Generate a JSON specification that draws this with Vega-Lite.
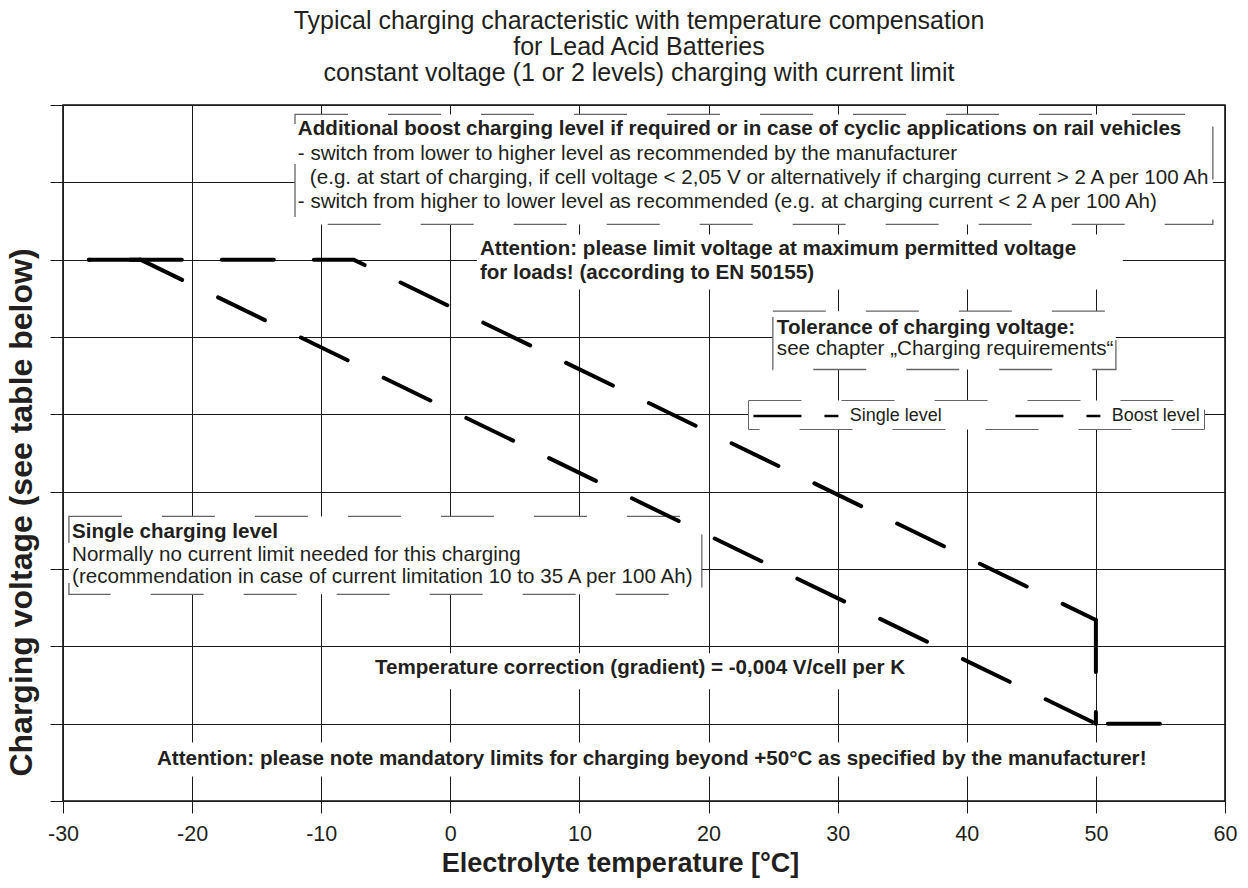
{
  "$schema": "https://vega.github.io/schema/vega-lite/v6.json",
  "width": 1162,
  "height": 696,
  "autosize": {"type": "none"},
  "padding": {"left": 63, "top": 105, "right": 23, "bottom": 87},
  "background": "white",
  "config": {
    "font": "Liberation Sans, Arial, Helvetica, sans-serif",
    "view": {"stroke": "#111111", "strokeWidth": 1.6},
    "axis": {
      "gridColor": "#1a1a1a",
      "gridOpacity": 1,
      "gridWidth": 1,
      "tickColor": "#1a1a1a",
      "tickWidth": 1,
      "domain": false,
      "labelColor": "#231f20",
      "titleColor": "#231f20"
    },
    "legend": {
      "orient": "none",
      "legendX": 685,
      "legendY": 295,
      "direction": "horizontal",
      "fillColor": "white",
      "strokeColor": "#666666",
      "padding": 4,
      "symbolType": "M-4,0L4,0",
      "symbolSize": 451,
      "symbolOffset": 31.9,
      "symbolStrokeWidth": 2.5,
      "symbolDash": [48, 23],
      "symbolStrokeColor": "#000000",
      "labelFontSize": 18,
      "labelColor": "#231f20",
      "labelOffset": 41.9,
      "columnPadding": 68
    }
  },
  "title": {
    "text": [
      "Typical charging characteristic with temperature compensation",
      "for Lead Acid Batteries",
      "constant voltage  (1 or 2 levels) charging  with current limit"
    ],
    "fontSize": 25,
    "fontWeight": "normal",
    "lineHeight": 26,
    "color": "#231f20",
    "anchor": "middle",
    "frame": "group",
    "offset": 19,
    "dx": -5
  },
  "datasets": {
    "levels": [
      {"series": "Single level", "i": 1, "t": -28, "v": 2.5},
      {"series": "Single level", "i": 2, "t": -24, "v": 2.5},
      {"series": "Single level", "i": 3, "t": 50, "v": 2.2},
      {"series": "Single level", "i": 4, "t": 55, "v": 2.2},
      {"series": "Boost level", "i": 1, "t": -28, "v": 2.5},
      {"series": "Boost level", "i": 2, "t": -7.5, "v": 2.5},
      {"series": "Boost level", "i": 3, "t": 50, "v": 2.267},
      {"series": "Boost level", "i": 4, "t": 50, "v": 2.2}
    ],
    "framedNotes": [
      {"note": "boost", "t": -12.03, "t_end": 59.06, "v": 2.5939, "v_end": 2.5228},
      {"note": "tolerance", "t": 24.98, "t_end": 51.55, "v": 2.4667, "v_end": 2.429},
      {"note": "single", "t": -29.54, "t_end": 19.48, "v": 2.334, "v_end": 2.2836}
    ],
    "plainNotes": [
      {"note": "limit", "t": 2.06, "t_end": 52.09, "v": 2.5163, "v_end": 2.4807},
      {"note": "gradient", "t": -6.38, "t_end": 35.0, "v": 2.2455, "v_end": 2.2222},
      {"note": "beyond50", "t": -23.26, "t_end": 56.6, "v": 2.1879, "v_end": 2.1659}
    ],
    "notes": [
      {"role": "heading", "t": -11.81, "v": 2.5805, "text": "Additional boost charging level if required or in case of cyclic applications on rail vehicles"},
      {"role": "body", "t": -11.81, "v": 2.5644, "text": "- switch from lower to higher level as recommended by the manufacturer"},
      {"role": "body", "t": -10.88, "v": 2.5489, "text": "(e.g. at start of charging, if cell voltage < 2,05 V or alternatively if charging current > 2 A per 100 Ah"},
      {"role": "body", "t": -11.81, "v": 2.5331, "text": "- switch from higher to lower level as recommended (e.g. at charging current < 2 A per 100 Ah)"},
      {"role": "heading", "t": 2.29, "v": 2.5029, "text": "Attention: please limit voltage at maximum permitted voltage"},
      {"role": "heading", "t": 2.29, "v": 2.4872, "text": "for loads! (according to EN 50155)"},
      {"role": "heading", "t": 25.29, "v": 2.4517, "text": "Tolerance of charging voltage:"},
      {"role": "body", "t": 25.29, "v": 2.4381, "text": "see chapter „Charging requirements“"},
      {"role": "heading", "t": -29.3, "v": 2.3198, "text": "Single charging level"},
      {"role": "body", "t": -29.3, "v": 2.3049, "text": "Normally no current limit needed for this charging"},
      {"role": "body", "t": -29.3, "v": 2.2907, "text": "(recommendation in case of current limitation 10 to 35 A per 100 Ah)"},
      {"role": "heading", "t": -5.84, "v": 2.2319, "text": "Temperature correction (gradient) = -0,004 V/cell per K"},
      {"role": "heading", "t": -22.72, "v": 2.1731, "text": "Attention: please note mandatory limits for charging beyond +50°C as specified by the manufacturer!"}
    ]
  },
  "layer": [
    {
      "data": {"name": "framedNotes"},
      "mark": {"type": "rect", "fill": "white", "stroke": "#666666", "strokeWidth": 1.3, "strokeDash": [53, 40]},
      "encoding": {
        "x": {
          "field": "t",
          "type": "quantitative",
          "title": "Electrolyte temperature [°C]",
          "scale": {"domain": [-30, 60], "nice": false, "zero": false},
          "axis": {
            "values": [-30, -20, -10, 0, 10, 20, 30, 40, 50, 60],
            "grid": true,
            "ticks": true,
            "tickSize": 12,
            "labelFontSize": 21.5,
            "labelPadding": 10,
            "labelFlush": false,
            "labelOverlap": false,
            "labelExpr": "(datum.value < 0 ? '-' : '') + abs(datum.value)",
            "titleFontSize": 27,
            "titleFontWeight": "bold",
            "titleX": 557,
            "titleY": 49,
            "titleBaseline": "top"
          }
        },
        "x2": {"field": "t_end"},
        "y": {
          "field": "v",
          "type": "quantitative",
          "title": "Charging voltage (see table below)",
          "scale": {"domain": [2.15, 2.6], "nice": false, "zero": false},
          "axis": {
            "values": [2.15, 2.2, 2.25, 2.3, 2.35, 2.4, 2.45, 2.5, 2.55, 2.6],
            "grid": true,
            "ticks": true,
            "tickSize": 13,
            "labels": false,
            "titleFontSize": 32,
            "titleFontWeight": "bold",
            "titleAngle": -90,
            "titleBaseline": "bottom",
            "titleX": -25,
            "titleY": 407
          }
        },
        "y2": {"field": "v_end"}
      }
    },
    {
      "data": {"name": "plainNotes"},
      "mark": {"type": "rect", "fill": "white"},
      "encoding": {
        "x": {"field": "t", "type": "quantitative", "title": "Electrolyte temperature [°C]"},
        "x2": {"field": "t_end"},
        "y": {"field": "v", "type": "quantitative", "title": "Charging voltage (see table below)"},
        "y2": {"field": "v_end"}
      }
    },
    {
      "data": {"name": "levels"},
      "transform": [{"filter": "(datum.series === 'Single level' && datum.i <= 2) || (datum.series === 'Boost level' && datum.i >= 3)"}],
      "mark": {"type": "line", "strokeWidth": 4, "strokeCap": "round", "strokeJoin": "round", "strokeDash": [52, 40], "strokeDashOffset": 0},
      "encoding": {
        "x": {"field": "t", "type": "quantitative", "title": "Electrolyte temperature [°C]"},
        "y": {"field": "v", "type": "quantitative", "title": "Charging voltage (see table below)"},
        "order": {"field": "i", "type": "quantitative"},
        "color": {
          "field": "series",
          "type": "nominal",
          "scale": {"domain": ["Single level", "Boost level"], "range": ["#000000", "#000000"]},
          "legend": {"title": null, "encode": {"legend": {"update": {"strokeDash": {"value": [53, 40]}}}}}
        }
      }
    },
    {
      "data": {"name": "levels"},
      "transform": [{"filter": "datum.series === 'Single level' && datum.i >= 2 && datum.i <= 3"}],
      "mark": {"type": "line", "strokeWidth": 4, "strokeCap": "round", "strokeJoin": "round", "strokeDash": [52, 40], "strokeDashOffset": 5.7},
      "encoding": {
        "x": {"field": "t", "type": "quantitative", "title": "Electrolyte temperature [°C]"},
        "y": {"field": "v", "type": "quantitative", "title": "Charging voltage (see table below)"},
        "order": {"field": "i", "type": "quantitative"},
        "color": {
          "field": "series",
          "type": "nominal",
          "scale": {"domain": ["Single level", "Boost level"], "range": ["#000000", "#000000"]},
          "legend": {"title": null, "encode": {"legend": {"update": {"strokeDash": {"value": [53, 40]}}}}}
        }
      }
    },
    {
      "data": {"name": "levels"},
      "transform": [{"filter": "datum.series === 'Single level' && datum.i >= 3"}],
      "mark": {"type": "line", "strokeWidth": 4, "strokeCap": "round", "strokeJoin": "round", "strokeDash": [52, 40], "strokeDashOffset": 80},
      "encoding": {
        "x": {"field": "t", "type": "quantitative", "title": "Electrolyte temperature [°C]"},
        "y": {"field": "v", "type": "quantitative", "title": "Charging voltage (see table below)"},
        "order": {"field": "i", "type": "quantitative"},
        "color": {
          "field": "series",
          "type": "nominal",
          "scale": {"domain": ["Single level", "Boost level"], "range": ["#000000", "#000000"]},
          "legend": {"title": null, "encode": {"legend": {"update": {"strokeDash": {"value": [53, 40]}}}}}
        }
      }
    },
    {
      "data": {"name": "levels"},
      "transform": [{"filter": "datum.series === 'Boost level' && datum.i <= 3"}],
      "mark": {"type": "line", "strokeWidth": 4, "strokeCap": "round", "strokeJoin": "round", "strokeDash": [52, 40], "strokeDashOffset": 51},
      "encoding": {
        "x": {"field": "t", "type": "quantitative", "title": "Electrolyte temperature [°C]"},
        "y": {"field": "v", "type": "quantitative", "title": "Charging voltage (see table below)"},
        "order": {"field": "i", "type": "quantitative"},
        "color": {
          "field": "series",
          "type": "nominal",
          "scale": {"domain": ["Single level", "Boost level"], "range": ["#000000", "#000000"]},
          "legend": {"title": null, "encode": {"legend": {"update": {"strokeDash": {"value": [53, 40]}}}}}
        }
      }
    },
    {
      "data": {"name": "notes"},
      "transform": [{"filter": "datum.role === 'heading'"}],
      "mark": {"type": "text", "align": "left", "baseline": "alphabetic", "fontWeight": "bold", "fontSize": 20.6, "color": "#231f20"},
      "encoding": {
        "x": {"field": "t", "type": "quantitative", "title": "Electrolyte temperature [°C]"},
        "y": {"field": "v", "type": "quantitative", "title": "Charging voltage (see table below)"},
        "text": {"field": "text"}
      }
    },
    {
      "data": {"name": "notes"},
      "transform": [{"filter": "datum.role === 'body'"}],
      "mark": {"type": "text", "align": "left", "baseline": "alphabetic", "fontWeight": "normal", "fontSize": 20.6, "color": "#231f20"},
      "encoding": {
        "x": {"field": "t", "type": "quantitative", "title": "Electrolyte temperature [°C]"},
        "y": {"field": "v", "type": "quantitative", "title": "Charging voltage (see table below)"},
        "text": {"field": "text"}
      }
    }
  ]
}
